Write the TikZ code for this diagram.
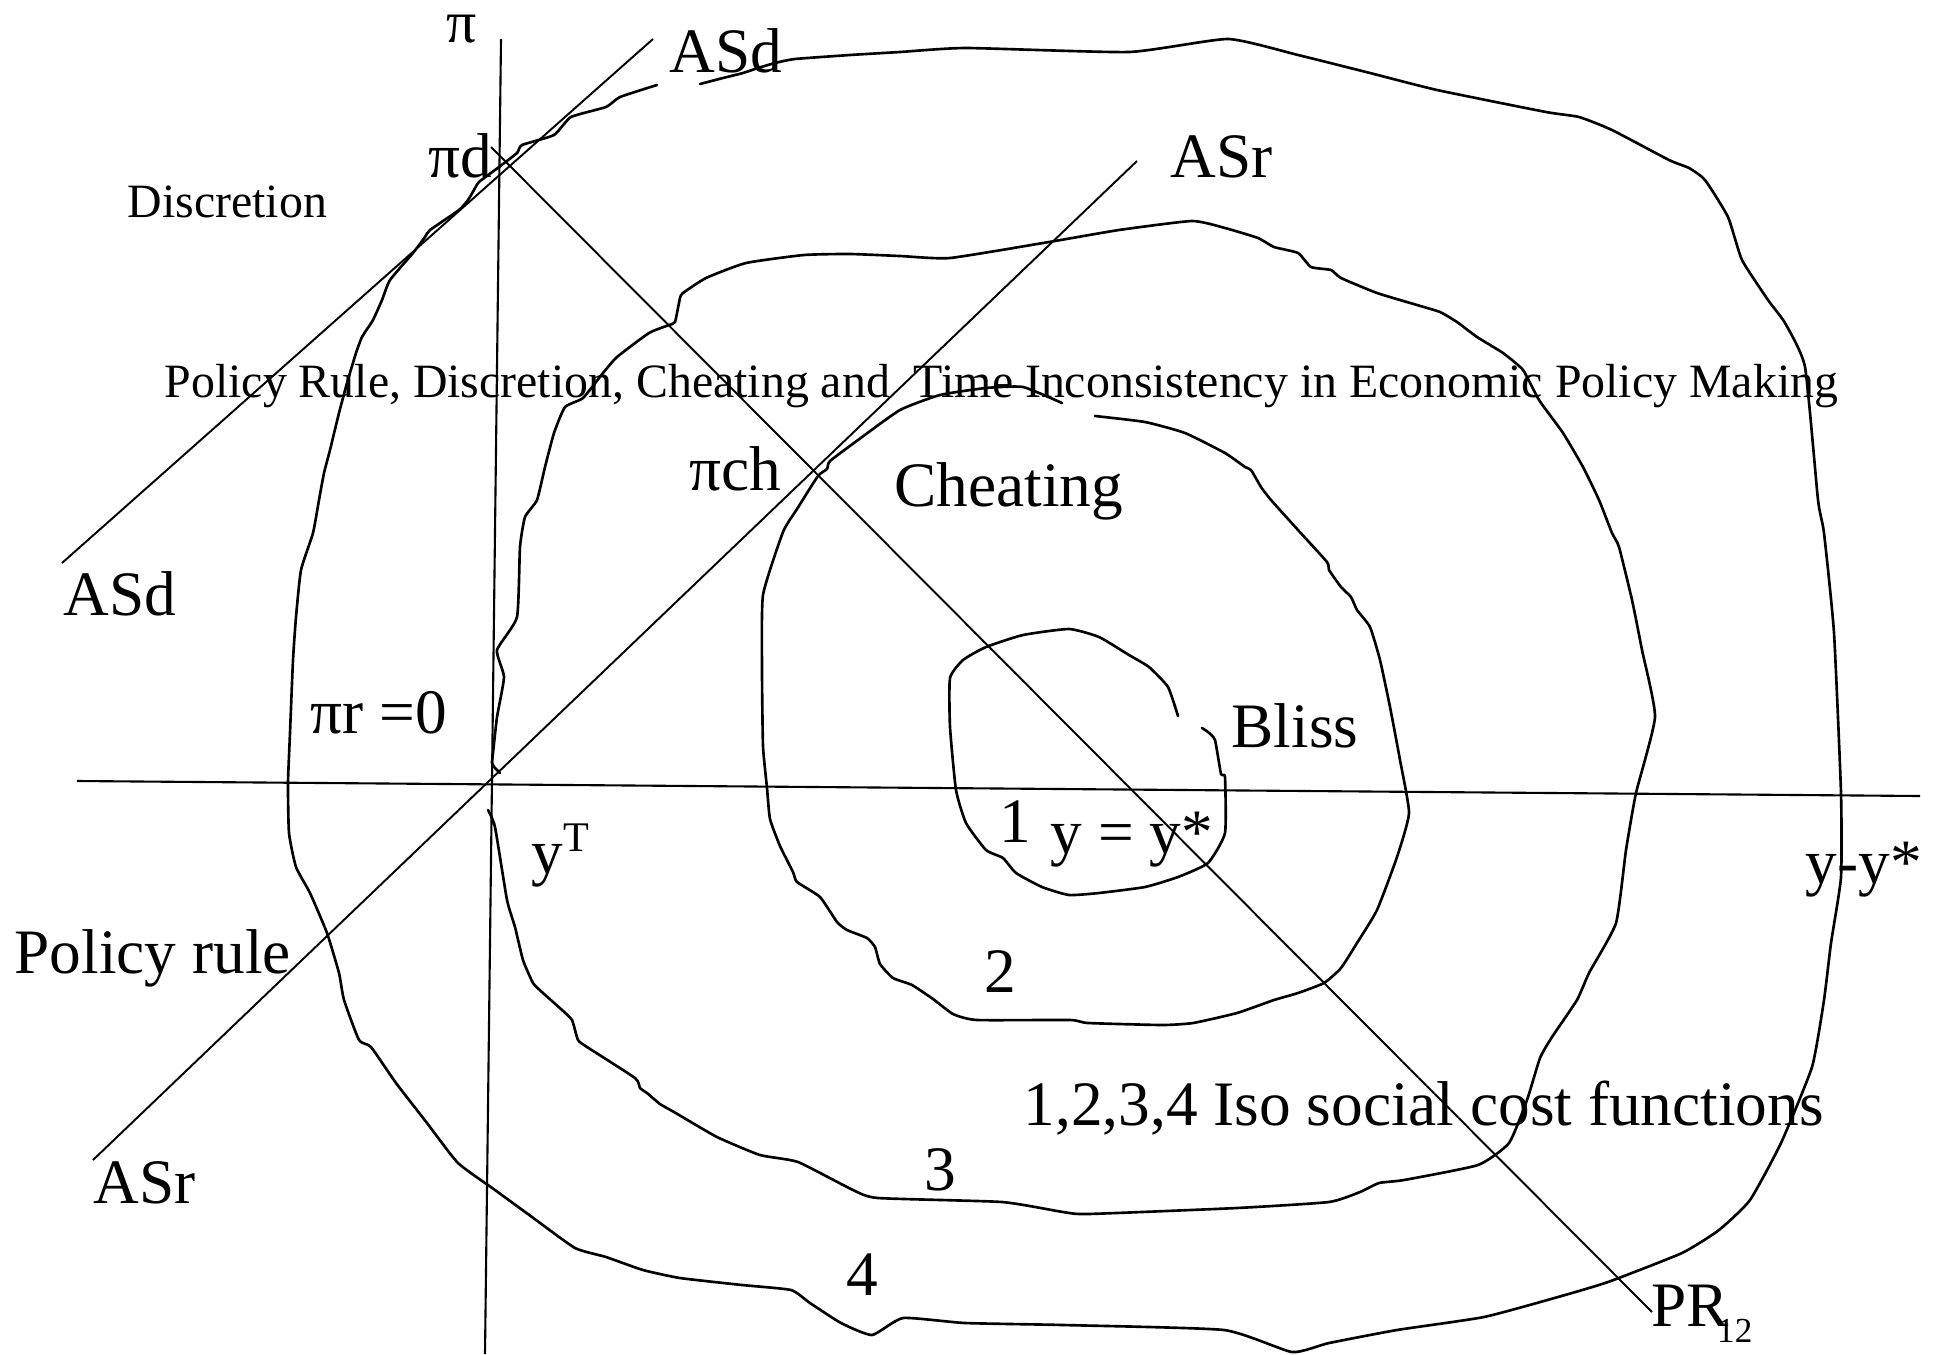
\documentclass[tikz,border=0pt]{standalone}
\usepackage{fontspec}
\setmainfont{Liberation Serif}
\usetikzlibrary{positioning}
\definecolor{sketchink}{HTML}{000000}
\tikzset{
  axisline/.style={draw=sketchink, line width=0.6pt},
  curveline/.style={draw=sketchink, line width=0.55pt},
  isocost/.style={draw=sketchink, line width=0.75pt, line join=round, line cap=round},
  biglabel/.style={inner sep=0pt, anchor=base west, font=\fontsize{18}{18}\selectfont},
  smalllabel/.style={inner sep=0pt, anchor=base west, font=\fontsize{13.6}{13.6}\selectfont}
}
\begin{document}
\begin{tikzpicture}[x=0.01cm, y=-0.01cm]
  \useasboundingbox (0,0) rectangle (1939,1354);

  \coordinate (piTop) at (501,39);
  \coordinate (piBot) at (485,1354);
  \coordinate (gapLeft) at (77,781);
  \coordinate (gapRight) at (1920,796);
  \coordinate (asdTop) at (653,39);
  \coordinate (asdBot) at (62,563);
  \coordinate (asrTop) at (1137,161);
  \coordinate (asrBot) at (93,1160);
  \coordinate (prTop) at (491,147);
  \coordinate (prBot) at (1652,1312);

  \draw[axisline] (piTop) -- (piBot);
  \draw[axisline] (gapLeft) -- (gapRight);
  \draw[curveline] (asdTop) -- (asdBot);
  \draw[curveline] (asrTop) -- (asrBot);
  \draw[curveline] (prTop) -- (prBot);

  % iso social cost curves, 1 innermost to 4 outermost
  \draw[isocost] plot[smooth, tension=0.3] coordinates {
    (1178,716) (1168,687) (1149,667) (1129,655) (1099,637) (1069,629) (1023,635)
    (986,647) (963,660) (950,678) (950,727) (956,790) (966,823) (986,850)
    (1003,858) (1016,873) (1042,887) (1069,895) (1099,893) (1145,887) (1178,877)
    (1208,863) (1225,833) (1225,777) (1221,774) (1215,740) (1208,732) (1202,728)};

  \draw[isocost] plot[smooth, tension=0.3] coordinates {
    (1062,403) (1023,387) (986,388) (940,395) (900,410) (858,440) (830,461)
    (827,469) (818,476) (797,509) (783,532) (763,595) (762,670) (763,746)
    (767,788) (770,819) (780,846) (793,872) (797,882) (820,897) (837,922)
    (847,930) (867,938) (875,947) (880,964) (893,978) (912,985) (933,999)
    (953,1014) (977,1020) (1070,1020) (1088,1023) (1162,1025) (1193,1023)
    (1237,1013) (1274,1000) (1298,993) (1324,983) (1341,968) (1357,943)
    (1377,910) (1397,857) (1409,813) (1400,760) (1390,707) (1380,660)
    (1370,627) (1357,610) (1351,597) (1341,587) (1329,570) (1327,562)
    (1298,530) (1271,500) (1261,487) (1251,470) (1245,467) (1225,453)
    (1185,433) (1145,422) (1095,416)};

  \draw[isocost] plot[smooth, tension=0.3] coordinates {
    (500,773) (495,768) (492,763) (493,753) (497,717) (504,677) (497,650)
    (517,617) (520,547) (525,517) (537,500) (545,467) (554,433) (565,407)
    (583,398) (603,373) (617,357) (649,333) (669,325) (675,322) (680,298)
    (683,293) (706,278) (746,263) (804,255) (850,254) (900,256) (950,258)
    (1049,242) (1119,230) (1192,221) (1225,228) (1258,238) (1274,247)
    (1298,253) (1311,267) (1331,270) (1341,278) (1377,293) (1417,305)
    (1440,312) (1457,322) (1477,337) (1503,353) (1523,370) (1539,400)
    (1563,433) (1583,467) (1599,500) (1612,533) (1619,547) (1632,600)
    (1642,650) (1655,717) (1636,793) (1626,850) (1616,923) (1589,973)
    (1577,1000) (1552,1037) (1540,1058) (1527,1100) (1509,1143) (1478,1165)
    (1404,1180) (1379,1183) (1360,1192) (1329,1202) (1237,1208) (1088,1214)
    (1063,1212) (1002,1202) (878,1198) (853,1190) (798,1162) (760,1155)
    (717,1137) (674,1112) (660,1104) (647,1093) (640,1088) (635,1078)
    (587,1047) (578,1040) (572,1020) (562,1010) (543,993) (533,983)
    (523,960) (515,927) (507,900) (495,827) (488,810)};

  \draw[isocost] plot[smooth, tension=0.3] coordinates {
    (657,85) (620,97) (606,107) (571,117) (554,135) (522,145) (517,153)
    (499,167) (479,182) (474,190) (468,200) (459,210) (430,230) (425,237)
    (413,253) (390,280) (382,300) (373,320) (362,337) (356,353) (347,383)
    (339,413) (330,450) (324,473) (319,500) (313,533) (301,570) (296,617)
    (293,660) (290,733) (288,783) (289,833) (296,867) (310,893) (327,933)
    (339,973) (344,1000) (359,1040) (371,1047) (396,1083) (427,1123)
    (458,1163) (495,1190) (532,1217) (575,1248) (606,1257) (643,1270)
    (680,1278) (742,1285) (791,1290) (810,1303) (841,1323) (872,1335)
    (903,1318) (965,1323) (1063,1325) (1224,1330) (1292,1352) (1329,1343)
    (1397,1330) (1484,1317) (1558,1297) (1608,1282) (1682,1253) (1719,1230)
    (1750,1200) (1781,1143) (1812,1067) (1824,1000) (1831,943) (1841,877)
    (1841,793) (1834,633) (1824,533) (1818,500) (1805,367) (1785,323)
    (1768,300) (1742,260) (1728,217) (1705,180) (1689,168) (1669,160)
    (1612,130) (1579,117) (1546,112) (1437,90) (1370,73) (1298,55)
    (1228,39) (1129,52) (966,48) (900,52) (850,55) (795,59) (775,63)
    (758,68) (743,73) (723,78) (700,84)};

  \node[biglabel, font=\fontsize{17}{17}\selectfont] (piLbl) at (446,42) {π};
  \node[biglabel] (asdUp) at (669,72) {ASd};
  \node[biglabel] (piD) at (428,177) {πd};
  \node[smalllabel] (discr) at (127,217) {Discretion};
  \node[biglabel] (asrUp) at (1170,177) {ASr};
  \node[smalllabel] (title) at (164,397) {Policy Rule, Discretion, Cheating and \ Time Inconsistency in Economic Policy Making};
  \node[biglabel] (piCh) at (689,490) {πch};
  \node[biglabel] (cheat) at (894,506) {Cheating};
  \node[biglabel] (asdLow) at (63,615) {ASd};
  \node[biglabel] (piR) at (310,733) {πr =0};
  \node[biglabel] (bliss) at (1231,747) {Bliss};
  \node[biglabel] (one) at (999,842) {1};
  \node[biglabel] (ystar) at (1050,853) {y = y*};
  \node[biglabel] (yT) at (531,873) {y\raisebox{6pt}{\fontsize{12}{12}\selectfont T}};
  \node[biglabel] (gapLbl) at (1805,883) {y-y*};
  \node[biglabel] (rule) at (14,973) {Policy rule};
  \node[biglabel] (two) at (984,992) {2};
  \node[biglabel] (isoNote) at (1023,1125) {1,2,3,4 Iso social cost functions};
  \node[biglabel] (three) at (924,1190) {3};
  \node[biglabel] (asrLow) at (93,1203) {ASr};
  \node[biglabel] (four) at (846,1295) {4};
  \node[biglabel] (prLbl) at (1651,1326) {PR\hspace{-3.4pt}\raisebox{-4.8pt}{\fontsize{10}{10}\selectfont 12}};
\end{tikzpicture}
\end{document}
